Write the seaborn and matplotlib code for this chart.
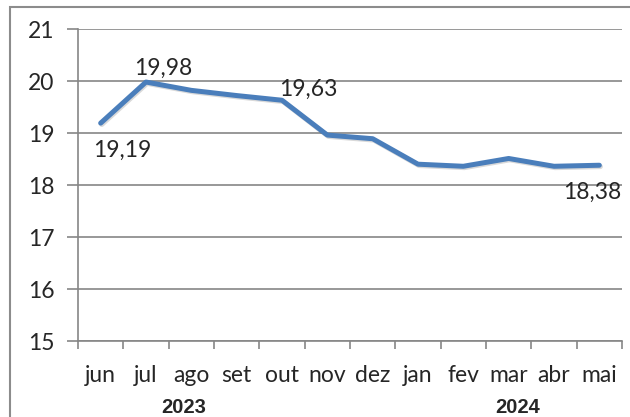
import matplotlib
matplotlib.use("Agg")
import matplotlib.pyplot as plt
import matplotlib.patheffects as pe
from matplotlib.patches import Rectangle
import seaborn as sns
import pandas as pd

months = ['jun', 'jul', 'ago', 'set', 'out', 'nov', 'dez', 'jan', 'fev', 'mar', 'abr', 'mai']
values = [19.19, 19.98, 19.82, 19.72, 19.63, 18.96, 18.89, 18.40, 18.36, 18.51, 18.36, 18.38]
years = ['2023', '2024']
labelled = {0: '19,19', 1: '19,98', 4: '19,63', 11: '18,38'}

df = pd.DataFrame({'x': range(len(months)), 'v': values})

sns.set_style('white')
plt.rcParams['font.family'] = ['Lato', 'DejaVu Sans']

fig = plt.figure(figsize=(6.3, 4.17), dpi=100)
ax = fig.add_axes([78 / 630, 1 - 341 / 417, 544 / 630, 312 / 417])

sns.lineplot(data=df, x='x', y='v', ax=ax, color='#4a7ebb', lw=3.6,
             path_effects=[pe.SimpleLineShadow(offset=(0.8, -1), alpha=0.15), pe.Normal()])

ax.set_ylim(15, 21)
ax.set_xlim(-0.5, len(months) - 0.5)
ax.set_yticks(range(15, 22))
ax.yaxis.grid(True, color='#868686', lw=1.2)
ax.set_axisbelow(True)
ax.set_xticks([i - 0.5 for i in range(len(months) + 1)])
ax.set_xticklabels([])
ax.tick_params(axis='x', direction='out', length=6, color='#868686', width=1.2, bottom=True)
ax.tick_params(axis='y', direction='out', length=8, color='#868686', width=1.2, left=True,
               labelsize=16.5, pad=9)
ax.set_xlabel('')
ax.set_ylabel('')
for s in ['top', 'right']:
    ax.spines[s].set_visible(False)
for s in ['left', 'bottom']:
    ax.spines[s].set_color('#868686')
    ax.spines[s].set_linewidth(1.2)

for i, m in enumerate(months):
    ax.text(i, 14.33, m, ha='center', va='center', fontsize=16.5)

ax.text(1.83, 13.72, years[0], ha='center', va='center', fontsize=14.5,
        fontweight='bold', family='Liberation Sans')
ax.text(9.2, 13.72, years[1], ha='center', va='center', fontsize=14.5,
        fontweight='bold', family='Liberation Sans')

offsets = {0: (0.47, -0.52), 1: (0.37, 0.27), 4: (0.57, 0.21), 11: (-0.15, -0.52)}
for i, txt in labelled.items():
    dx, dy = offsets[i]
    ax.text(i + dx, values[i] + dy, txt, ha='center', va='center', fontsize=16.5)

fig.patches.append(Rectangle((10 / 630, -0.1), 1.2, 1 - 7 / 417 + 0.1, transform=fig.transFigure,
                             fill=False, edgecolor='#8c8c8c', lw=1.5))

fig.savefig('out.png', dpi=100)
